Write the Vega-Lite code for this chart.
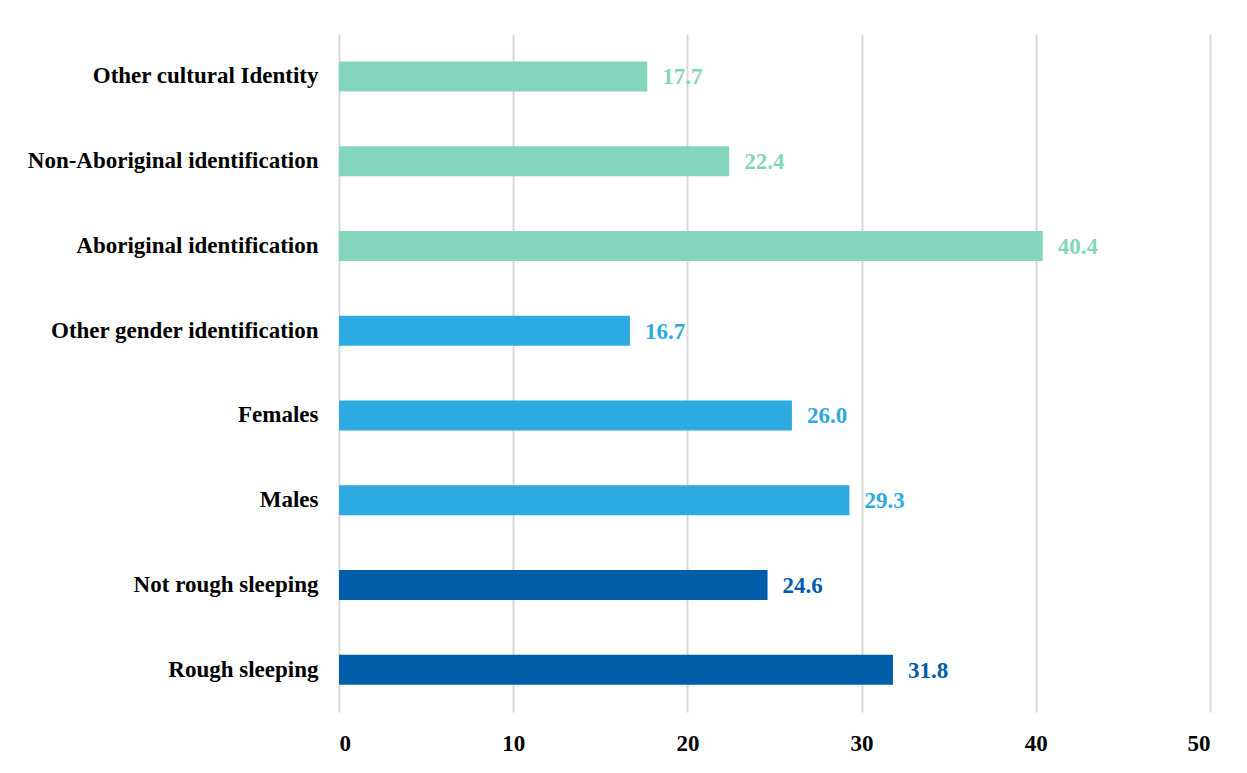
{
  "$schema": "https://vega.github.io/schema/vega-lite/v6.json",
  "autosize": {"type": "none"},
  "width": 871,
  "height": 678,
  "padding": {"left": 339, "top": 34, "right": 37, "bottom": 61},
  "background": "white",
  "config": {
    "view": {"stroke": null},
    "font": "Liberation Serif"
  },
  "data": {
    "values": [
      {"category": "Other cultural Identity", "value": 17.7, "group": "Culture"},
      {"category": "Non-Aboriginal identification", "value": 22.4, "group": "Culture"},
      {"category": "Aboriginal identification", "value": 40.4, "group": "Culture"},
      {"category": "Other gender identification", "value": 16.7, "group": "Gender"},
      {"category": "Females", "value": 26.0, "group": "Gender"},
      {"category": "Males", "value": 29.3, "group": "Gender"},
      {"category": "Not rough sleeping", "value": 24.6, "group": "Sleeping"},
      {"category": "Rough sleeping", "value": 31.8, "group": "Sleeping"}
    ]
  },
  "encoding": {
    "y": {
      "field": "category",
      "type": "nominal",
      "sort": null,
      "title": null,
      "axis": {
        "domain": false,
        "ticks": false,
        "labelFont": "Liberation Serif",
        "labelFontSize": 23,
        "labelFontWeight": "bold",
        "labelColor": "#000000",
        "labelPadding": 21,
        "labelLimit": 400
      }
    },
    "x": {
      "field": "value",
      "type": "quantitative",
      "scale": {"domain": [0, 50], "nice": false},
      "title": null,
      "axis": {
        "values": [0, 10, 20, 30, 40, 50],
        "domain": false,
        "ticks": false,
        "grid": true,
        "gridColor": "#D9D9D9",
        "gridWidth": 2,
        "labelFont": "Liberation Serif",
        "labelFontSize": 23,
        "labelFontWeight": "bold",
        "labelColor": "#000000",
        "labelPadding": 20
      }
    },
    "color": {
      "field": "group",
      "type": "nominal",
      "legend": null,
      "scale": {
        "domain": ["Culture", "Gender", "Sleeping"],
        "range": ["#83D6BD", "#2DAAE1", "#005DA9"]
      }
    }
  },
  "layer": [
    {"mark": {"type": "bar", "size": 30}},
    {
      "mark": {
        "type": "text",
        "align": "left",
        "baseline": "middle",
        "dx": 15,
        "dy": 1,
        "font": "Liberation Serif",
        "fontSize": 23,
        "fontWeight": "bold"
      },
      "encoding": {
        "text": {"field": "value", "type": "quantitative", "format": ".1f"}
      }
    }
  ]
}
